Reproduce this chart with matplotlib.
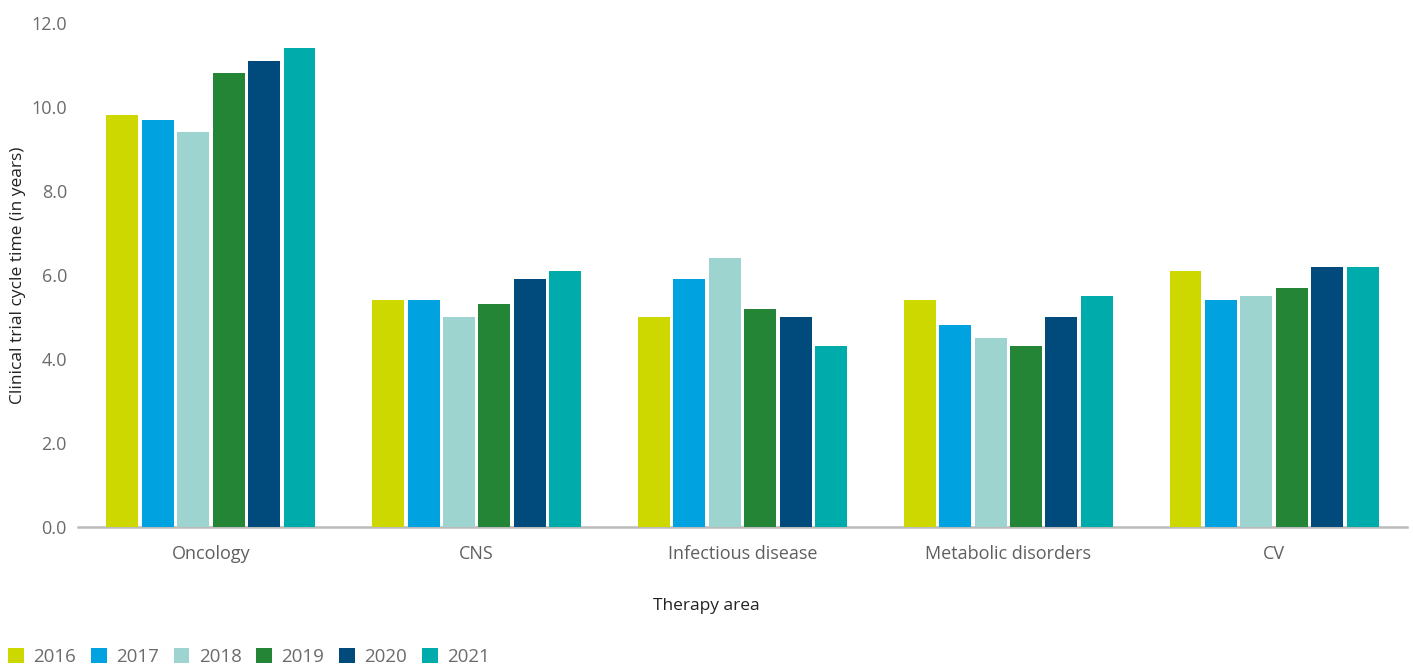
import matplotlib.pyplot as plt
import numpy as np
from matplotlib.patches import Patch

plt.rcParams['font.family'] = ['Open Sans', 'DejaVu Sans']

areas = ['Oncology', 'CNS', 'Infectious disease', 'Metabolic disorders', 'CV']
years = ['2016', '2017', '2018', '2019', '2020', '2021']
values = {
    '2016': [9.8, 5.4, 5.0, 5.4, 6.1],
    '2017': [9.7, 5.4, 5.9, 4.8, 5.4],
    '2018': [9.4, 5.0, 6.4, 4.5, 5.5],
    '2019': [10.8, 5.3, 5.2, 4.3, 5.7],
    '2020': [11.1, 5.9, 5.0, 5.0, 6.2],
    '2021': [11.4, 6.1, 4.3, 5.5, 6.2],
}
colors = ['#CDD700', '#00A3E0', '#9DD4CF', '#238535', '#004B7B', '#00ABAB']
yticks = [0, 2, 4, 6, 8, 10, 12]

W, H = 1413, 668
fig = plt.figure(figsize=(W / 100, H / 100), dpi=100)
ax = fig.add_axes([78 / W, 1 - 527 / H, (1407 - 78) / W, (527 - 23) / H])

x = np.arange(len(areas))
pitch = 0.1333
width = 0.12
for i, yr in enumerate(years):
    ax.bar(x + (i - 2.5) * pitch, values[yr], width=width, color=colors[i], zorder=3)

ax.set_xlim(-0.5, len(areas) - 0.5)
ax.set_ylim(0, 12)
ax.set_yticks(yticks)
ax.set_yticklabels([f'{v:.1f}' for v in yticks], fontsize=13, color='#6B6B6B')
ax.set_xticks(x)
ax.set_xticklabels(areas, fontsize=13, color='#5F5F5F')
ax.tick_params(axis='y', length=0, pad=8)
ax.tick_params(axis='x', length=0, pad=13)
for s in ['top', 'right', 'left']:
    ax.spines[s].set_visible(False)
ax.spines['bottom'].set_color('#BBBBBB')
ax.spines['bottom'].set_linewidth(1.8)
ax.spines['bottom'].set_zorder(2)

fig.text(18 / W, 1 - 275 / H, 'Clinical trial cycle time (in years)', rotation=90,
         ha='center', va='center', fontsize=12.5, color='#222222')
fig.text(0.5, 1 - 606 / H, 'Therapy area', ha='center', va='center', fontsize=12.5, color='#222222')

handles = [Patch(facecolor=c, label=y) for c, y in zip(colors, years)]
fig.legend(handles=handles, loc='lower left', bbox_to_anchor=(8 / W, 2 / H), ncol=6, frameon=False,
           fontsize=13.5, labelcolor='#6B6B6B', handlelength=0.85, handleheight=0.85,
           handletextpad=0.5, columnspacing=0.78, borderaxespad=0, borderpad=0)

fig.savefig('out.png', dpi=100)
